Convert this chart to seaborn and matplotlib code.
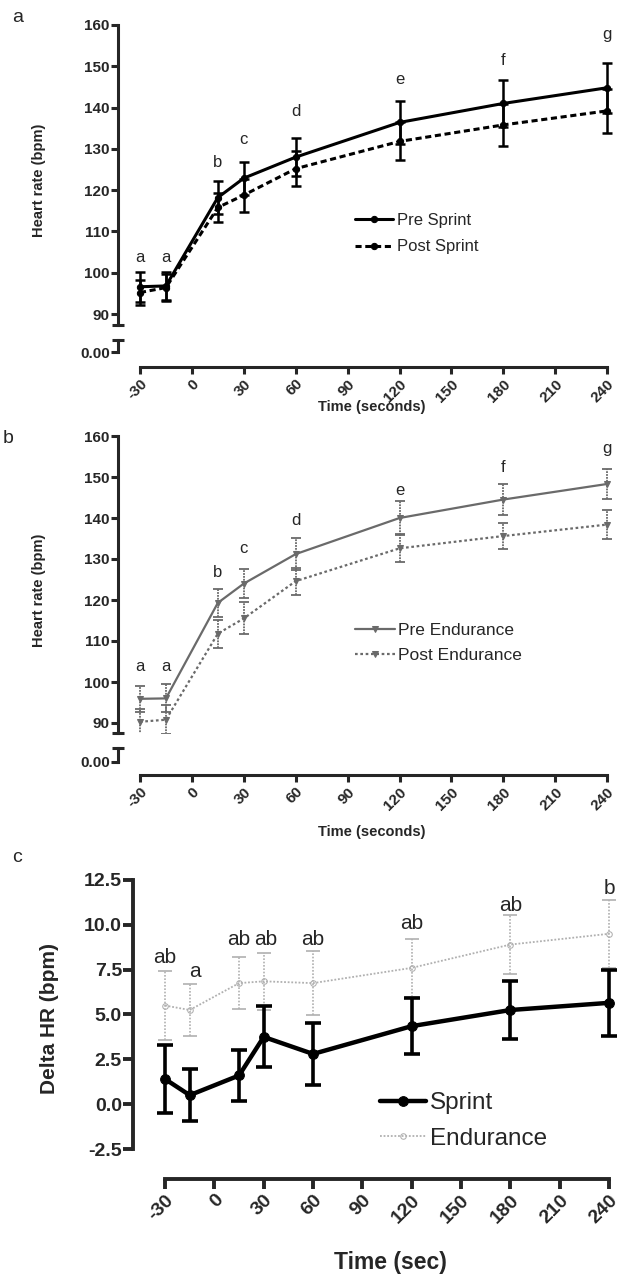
"""
Heart rate recovery after sprint / endurance bouts, three stacked panels:
a) pre vs post sprint HR, b) pre vs post endurance HR, c) delta HR.
"""
import matplotlib
matplotlib.use("Agg")
import matplotlib.pyplot as plt
import pandas as pd
import seaborn as sns

W, H, DPI = 621, 1277, 100

TIME = [-30, -15, 15, 30, 60, 120, 180, 240]
XTICKS = [-30, 0, 30, 60, 90, 120, 150, 180, 210, 240]

# panel a: sprint
PRE_SPRINT = [96.6, 96.8, 118.2, 122.9, 128.0, 136.4, 141.0, 144.8]
PRE_SPRINT_SEM = [3.6, 3.4, 4.0, 4.0, 4.6, 5.2, 5.6, 6.0]
POST_SPRINT = [95.2, 96.4, 115.8, 118.8, 125.2, 131.8, 135.8, 139.2]
POST_SPRINT_SEM = [3.0, 3.2, 3.4, 4.0, 4.2, 4.6, 5.0, 5.4]
LETTERS_A = ["a", "a", "b", "c", "d", "e", "f", "g"]
LETTER_Y_A = [103.8, 103.8, 126.8, 132.2, 139.0, 146.7, 151.5, 157.6]

# panel b: endurance
PRE_END = [95.9, 96.0, 119.3, 124.0, 131.2, 140.0, 144.5, 148.3]
PRE_END_SEM = [3.2, 3.4, 3.5, 3.5, 4.0, 4.1, 3.7, 3.6]
POST_END = [90.3, 90.8, 111.8, 115.5, 124.6, 132.6, 135.6, 138.4]
POST_END_SEM = [3.2, 3.6, 3.4, 3.9, 3.3, 3.4, 3.2, 3.5]
LETTERS_B = ["a", "a", "b", "c", "d", "e", "f", "g"]
LETTER_Y_B = [103.7, 103.7, 126.8, 132.5, 139.4, 146.7, 152.4, 157.0]

# panel c: delta HR
DELTA_SPRINT = [1.4, 0.5, 1.6, 3.75, 2.8, 4.35, 5.25, 5.65]
DELTA_SPRINT_SEM = [1.9, 1.45, 1.4, 1.7, 1.75, 1.55, 1.6, 1.85]
DELTA_END = [5.5, 5.25, 6.75, 6.85, 6.75, 7.6, 8.9, 9.5]
DELTA_END_SEM = [1.9, 1.45, 1.45, 1.6, 1.8, 1.6, 1.65, 1.9]
LETTERS_C = ["ab", "a", "ab", "ab", "ab", "ab", "ab", "b"]
LETTER_X_C = [-30, -12, 15, 31, 60, 120, 180, 240]
LETTER_Y_C = [8.2, 7.4, 9.2, 9.2, 9.2, 10.1, 11.1, 12.0]

sns.set_style("ticks")
plt.rcParams["font.family"] = ["Liberation Sans", "DejaVu Sans"]
plt.rcParams["axes.linewidth"] = 2.2

fig = plt.figure(figsize=(W / DPI, H / DPI), dpi=DPI)


def px_axes(left, top, right, bottom):
    return fig.add_axes([left / W, 1 - bottom / H, (right - left) / W, (bottom - top) / H])


def fig_text(x, y, s, **kw):
    fig.text(x / W, 1 - y / H, s, **kw)


def style_main(ax, xlim, ylim, yticks, fmt, tick_size, lw):
    ax.set_xlim(*xlim)
    ax.set_ylim(*ylim)
    for s in ["top", "right", "bottom"]:
        ax.spines[s].set_visible(False)
    ax.spines["left"].set_linewidth(lw)
    ax.set_xticks([])
    ax.set_yticks(yticks)
    ax.set_yticklabels([fmt % v for v in yticks], fontsize=tick_size, fontweight="bold")
    ax.tick_params(axis="y", direction="out", length=5, width=lw, pad=1)
    ax.set_xlabel("")
    ax.set_ylabel("")


def style_xaxis(ax, offset_px, tick_size, lw, length):
    ax.spines["bottom"].set_position(("outward", offset_px * 72 / DPI))
    ax.spines["bottom"].set_bounds(-30, 240)
    ax.spines["bottom"].set_linewidth(lw)
    ax.set_xticks(XTICKS)
    ax.set_xticklabels([str(t) for t in XTICKS], fontsize=tick_size, fontweight="bold",
                       rotation=45, ha="right", va="top", rotation_mode="anchor")
    ax.tick_params(axis="x", direction="out", length=length, width=lw, pad=2)


def broken_panel(top, brk, low_top, low_bot, x_axis, tick_px):
    # tick_px: pixel rows of the 160 and 90 ticks
    p160, p90 = tick_px
    per = (p90 - p160) / 70.0
    ybot = 160 - (brk - top) / per
    ax = px_axes(118, top, 616, brk)
    style_main(ax, (-42.7, 245.1), (ybot, 160), [90, 100, 110, 120, 130, 140, 150, 160],
               "%d", 11, 2.2)
    ax.set_yticks([ybot], minor=True)
    ax.tick_params(axis="y", which="minor", direction="inout", length=9, width=2.2)
    low = px_axes(118, low_top, 616, low_bot)
    low.set_xlim(-42.7, 245.1)
    low.set_ylim(0, 1)
    for s in ["top", "right"]:
        low.spines[s].set_visible(False)
    low.spines["left"].set_linewidth(2.2)
    low.set_yticks([0])
    low.set_yticklabels(["0.00"], fontsize=11, fontweight="bold")
    low.set_yticks([1], minor=True)
    low.tick_params(axis="y", which="major", direction="out", length=5, width=2.2, pad=1)
    low.tick_params(axis="y", which="minor", direction="inout", length=9, width=2.2)
    style_xaxis(low, x_axis - low_bot, 11, 2.2, 5)
    low.patch.set_alpha(0)
    ax.patch.set_alpha(0)
    return ax


def draw_series(ax, y, sem, color, ls, lw, marker, ms, label, cap, elw, els="-"):
    eb = ax.errorbar(TIME, y, yerr=sem, fmt="none", ecolor=color, elinewidth=elw,
                     capsize=cap, capthick=elw)
    for c in eb[2]:
        c.set_linestyle(els)
    df = pd.DataFrame({"time": TIME, "hr": y})
    sns.lineplot(data=df, x="time", y="hr", ax=ax, color=color, lw=lw, linestyle=ls,
                 marker=marker, markersize=ms, markeredgecolor=color, label=label,
                 errorbar=None)


# ---------------- panel a ----------------
ax_a = broken_panel(25, 325, 340, 352, 367, (25, 314))
draw_series(ax_a, PRE_SPRINT, PRE_SPRINT_SEM, "black", "-", 2.2, "o", 4.5, "Pre Sprint", 3.5, 1.8)
draw_series(ax_a, POST_SPRINT, POST_SPRINT_SEM, "black", (0, (2, 1.2)), 2.2, "o", 4.5,
            "Post Sprint", 3.5, 1.8)
for x, y, s in zip(TIME, LETTER_Y_A, LETTERS_A):
    ax_a.text(x, y, s, ha="center", va="center", fontsize=12)
ax_a.legend(loc="center left", bbox_to_anchor=(355 / W, 1 - 233.5 / H), bbox_transform=fig.transFigure,
            frameon=False, fontsize=12, handlelength=2.3, handletextpad=0.2, labelspacing=0.7,
            borderaxespad=0, borderpad=0)
ax_a.set_xlabel("")
ax_a.set_ylabel("")

# ---------------- panel b ----------------
ax_b = broken_panel(436, 733, 748, 762, 775, (436, 723))
draw_series(ax_b, PRE_END, PRE_END_SEM, "#6a6a6a", "-", 1.6, "v", 4, "Pre Endurance", 3.5, 1.3,
            els=(0, (1, 0.6)))
draw_series(ax_b, POST_END, POST_END_SEM, "#6a6a6a", (0, (1.2, 1.2)), 1.6, "v", 4,
            "Post Endurance", 3.5, 1.3, els=(0, (1, 0.6)))
for x, y, s in zip(TIME, LETTER_Y_B, LETTERS_B):
    ax_b.text(x, y, s, ha="center", va="center", fontsize=12)
ax_b.legend(loc="center left", bbox_to_anchor=(355 / W, 1 - 643 / H), bbox_transform=fig.transFigure,
            frameon=False, fontsize=12.5, handlelength=2.3, handletextpad=0.2, labelspacing=0.55,
            borderaxespad=0, borderpad=0)
ax_b.set_xlabel("")
ax_b.set_ylabel("")

# ---------------- panel c ----------------
ax_c = px_axes(133, 880, 621, 1149)
style_main(ax_c, (-49.5, 247.3), (-2.5, 12.5), [-2.5, 0, 2.5, 5, 7.5, 10, 12.5], "%.1f", 14, 2.8)
ax_c.spines["bottom"].set_visible(True)
style_xaxis(ax_c, 30, 14, 2.8, 7)
ax_c.tick_params(axis="y", length=7, width=2.8)
draw_series(ax_c, DELTA_END, DELTA_END_SEM, "#b0b0b0", (0, (1, 1)), 1.3, "o", 4, "Endurance", 5, 1.2,
            els=(0, (1, 1)))
ax_c.lines[-1].set_markerfacecolor("none")
draw_series(ax_c, DELTA_SPRINT, DELTA_SPRINT_SEM, "black", "-", 3.2, "o", 7, "Sprint", 6, 2.6)
for x, y, s in zip(LETTER_X_C, LETTER_Y_C, LETTERS_C):
    ax_c.text(x, y, s, ha="center", va="center", fontsize=15)
handles, labels = ax_c.get_legend_handles_labels()
ax_c.legend(handles[::-1], labels[::-1], loc="center left", bbox_to_anchor=(380 / W, 1 - 1121 / H),
            bbox_transform=fig.transFigure, frameon=False, fontsize=17.5, handlelength=1.9,
            handletextpad=0.15, labelspacing=0.55, borderaxespad=0, borderpad=0)
for ln in ax_c.lines:
    ln.set_clip_on(False)
for coll in ax_c.collections:
    coll.set_clip_on(False)
ax_c.set_xlabel("")
ax_c.set_ylabel("")

# ---------------- labels ----------------
fig_text(12, 17, "a", fontsize=14, ha="left", va="center")
fig_text(3, 438, "b", fontsize=14, ha="left", va="center")
fig_text(12, 857, "c", fontsize=14, ha="left", va="center")
fig_text(39, 180, "Heart rate (bpm)", rotation=90, fontsize=10.5, fontweight="bold",
         ha="center", va="center")
fig_text(39, 590, "Heart rate (bpm)", rotation=90, fontsize=10.5, fontweight="bold",
         ha="center", va="center")
fig_text(50, 1018, "Delta HR (bpm)", rotation=90, fontsize=15, fontweight="bold",
         ha="center", va="center")
fig_text(372, 407, "Time (seconds)", fontsize=10.5, fontweight="bold", ha="center", va="center")
fig_text(372, 832, "Time (seconds)", fontsize=10.5, fontweight="bold", ha="center", va="center")
fig_text(390, 1262, "Time (sec)", fontsize=16.5, fontweight="bold", ha="center", va="center")

fig.savefig("out.png", dpi=DPI)
